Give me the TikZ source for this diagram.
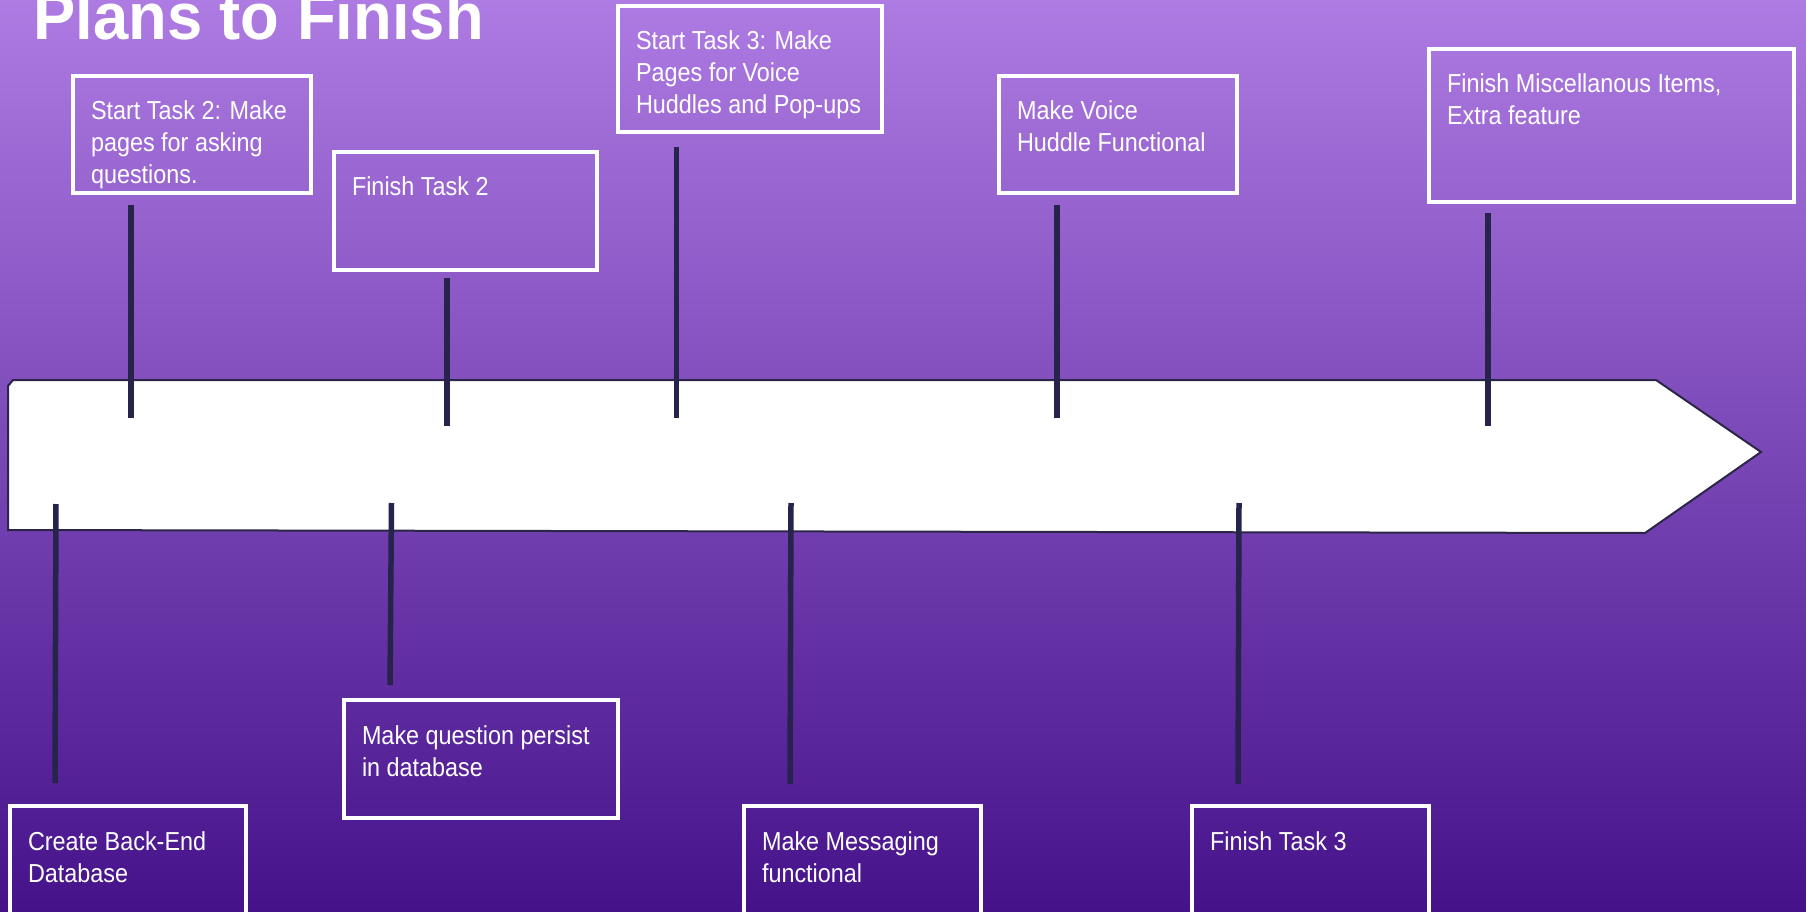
\documentclass[tikz,border=0pt]{standalone}
\usepackage{fontspec}
\newfontfamily\bodyf[FakeStretch=0.9]{Liberation Sans}
\newfontfamily\titlef[FakeStretch=0.96]{Liberation Sans}
\definecolor{bgtop}{HTML}{AE7BE3}
\definecolor{bgbot}{HTML}{45128A}
\definecolor{tickc}{HTML}{26244A}
\definecolor{edgec}{HTML}{2B2548}
\begin{document}
\begin{tikzpicture}[x=1pt,y=-1pt,
  boxnode/.style 2 args={draw=white,line width=3.5pt,inner sep=0pt,outer sep=0pt,
    anchor=north west,minimum width=#1,minimum height=#2},
  txt/.style={font={\bodyf\fontsize{26}{32}\selectfont},text=white,align=left,
    inner sep=0pt,outer sep=0pt,anchor=north west},
  tickline/.style={draw=tickc,line width=5.5pt,line cap=butt},
  timeline/.style={draw=edgec,line width=2pt,fill=white,line join=miter}]
\useasboundingbox (0,0) rectangle (1806,912);
\clip (0,0) rectangle (1806,912);
\shade[top color=bgtop,bottom color=bgbot] (0,0) rectangle (1806,912);

% title
\node[font={\titlef\bfseries\fontsize{66}{70}\selectfont},text=white,inner sep=0pt,anchor=base west] (title) at (33,40) {Plans to Finish};

% timeline arrow
\path[timeline] (8,386) -- (13,380) -- (1656,380) -- (1761,452) -- (1645,533) -- (8,530) -- cycle;

% upper boxes
\node[boxnode={238pt}{117pt}] (A) at (73,76) {};
\node[txt] (At) at ([shift={(18,21.6)}]A.north west) {\strut Start Task 2: Make\\pages for asking\\questions.};
\node[boxnode={263pt}{118pt}] (B) at (334,152) {};
\node[txt] (Bt) at ([shift={(18,21.6)}]B.north west) {\strut Finish Task 2};
\node[boxnode={264pt}{126pt}] (C) at (618,6) {};
\node[txt] (Ct) at ([shift={(18,21.6)}]C.north west) {\strut Start Task 3: Make\\Pages for Voice\\Huddles and Pop-ups};
\node[boxnode={238pt}{117pt}] (D) at (999,76) {};
\node[txt] (Dt) at ([shift={(18,21.6)}]D.north west) {\strut Make Voice\\Huddle Functional};
\node[boxnode={365pt}{153pt}] (E) at (1429,49) {};
\node[txt] (Et) at ([shift={(18,21.6)}]E.north west) {\strut Finish Miscellanous Items,\\Extra feature};

% lower boxes
\node[boxnode={236pt}{130pt}] (F) at (10,806) {};
\node[txt] (Ft) at ([shift={(18,21.6)}]F.north west) {\strut Create Back-End\\Database};
\node[boxnode={274pt}{118pt}] (G) at (344,700) {};
\node[txt] (Gt) at ([shift={(18,21.6)}]G.north west) {\strut Make question persist\\in database};
\node[boxnode={237pt}{130pt}] (H) at (744,806) {};
\node[txt] (Ht) at ([shift={(18,21.6)}]H.north west) {\strut Make Messaging\\functional};
\node[boxnode={237pt}{130pt}] (I) at (1192,806) {};
\node[txt] (It) at ([shift={(18,21.6)}]I.north west) {\strut Finish Task 3};

% tick coordinates
\coordinate (a1) at (131,205);  \coordinate (a2) at (131,418);
\coordinate (b1) at (447,278);  \coordinate (b2) at (447,426);
\coordinate (c1) at (676.5,147);\coordinate (c2) at (676.5,418);
\coordinate (d1) at (1057,205); \coordinate (d2) at (1057,418);
\coordinate (e1) at (1488,213); \coordinate (e2) at (1488,426);
\coordinate (f1) at (56,504);   \coordinate (f2) at (55,783);
\coordinate (g1) at (391.5,503);\coordinate (g2) at (390,685);
\coordinate (h1) at (791,503);  \coordinate (h2) at (790,784);
\coordinate (i1) at (1239,503); \coordinate (i2) at (1238,784);

\foreach \p in {a,b,c,d,e,f,g,h,i}{
  \draw[tickline] (\p1) -- (\p2);
}
\end{tikzpicture}
\end{document}
